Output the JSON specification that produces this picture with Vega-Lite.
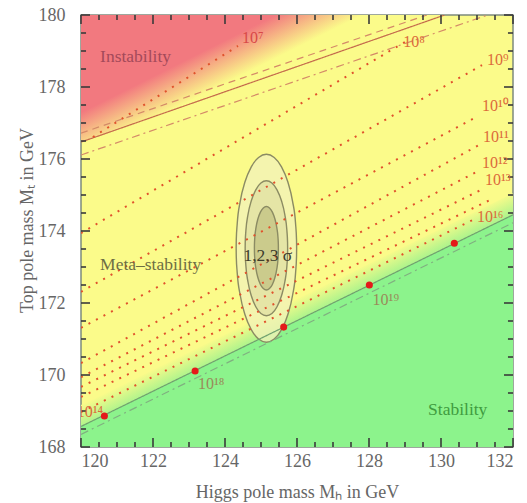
{
  "$schema": "https://vega.github.io/schema/vega-lite/v6.json",
  "width": 432,
  "height": 432,
  "autosize": "none",
  "padding": {"left": 81, "top": 15, "right": 14, "bottom": 56},
  "background": "white",
  "config": {
    "view": {"fill": "#fbfb8a", "stroke": "#7d8a7d", "strokeWidth": 1.5},
    "font": "Liberation Serif",
    "axis": {
      "domain": false, "grid": false, "ticks": false,
      "labelFont": "Liberation Serif", "labelFontSize": 18, "labelColor": "#666666",
      "titleFont": "Liberation Serif", "titleFontSize": 18, "titleColor": "#666666", "titleFontWeight": "normal"
    }
  },
  "datasets": {
    "red": [{"x": 120, "y": 176.47}, {"x": 130.1, "y": 180}],
    "green": [{"x": 120, "y": 168.57}, {"x": 132, "y": 174.45}],
    "band": [{"x": 120, "lo": 168.57, "hi": 169.17}, {"x": 132, "lo": 174.45, "hi": 175.05}],
    "xmaj": [{"v": 120}, {"v": 122}, {"v": 124}, {"v": 126}, {"v": 128}, {"v": 130}, {"v": 132}],
    "xmin": [{"v": 120.5}, {"v": 121}, {"v": 121.5}, {"v": 122.5}, {"v": 123}, {"v": 123.5}, {"v": 124.5}, {"v": 125}, {"v": 125.5}, {"v": 126.5}, {"v": 127}, {"v": 127.5}, {"v": 128.5}, {"v": 129}, {"v": 129.5}, {"v": 130.5}, {"v": 131}, {"v": 131.5}],
    "ymaj": [{"v": 168}, {"v": 170}, {"v": 172}, {"v": 174}, {"v": 176}, {"v": 178}, {"v": 180}],
    "ymin": [{"v": 168.5}, {"v": 169}, {"v": 169.5}, {"v": 170.5}, {"v": 171}, {"v": 171.5}, {"v": 172.5}, {"v": 173}, {"v": 173.5}, {"v": 174.5}, {"v": 175}, {"v": 175.5}, {"v": 176.5}, {"v": 177}, {"v": 177.5}, {"v": 178.5}, {"v": 179}, {"v": 179.5}],
    "e3": [
      {"x": 124.31, "lo": 173.52, "hi": 173.52}, {"x": 124.313, "lo": 173.292, "hi": 173.748},
      {"x": 124.339, "lo": 172.845, "hi": 174.196}, {"x": 124.423, "lo": 172.215, "hi": 174.825},
      {"x": 124.556, "lo": 171.675, "hi": 175.366}, {"x": 124.73, "lo": 171.26, "hi": 175.78},
      {"x": 124.933, "lo": 170.999, "hi": 176.041}, {"x": 125.15, "lo": 170.91, "hi": 176.13},
      {"x": 125.367, "lo": 170.999, "hi": 176.041}, {"x": 125.57, "lo": 171.26, "hi": 175.78},
      {"x": 125.744, "lo": 171.675, "hi": 175.366}, {"x": 125.877, "lo": 172.215, "hi": 174.825},
      {"x": 125.961, "lo": 172.845, "hi": 174.196}, {"x": 125.987, "lo": 173.292, "hi": 173.748},
      {"x": 125.99, "lo": 173.52, "hi": 173.52}
    ],
    "e2": [
      {"x": 124.56, "lo": 173.52, "hi": 173.52}, {"x": 124.562, "lo": 173.357, "hi": 173.684},
      {"x": 124.58, "lo": 173.035, "hi": 174.005}, {"x": 124.639, "lo": 172.583, "hi": 174.458},
      {"x": 124.733, "lo": 172.194, "hi": 174.846}, {"x": 124.855, "lo": 171.896, "hi": 175.144},
      {"x": 124.997, "lo": 171.709, "hi": 175.331}, {"x": 125.15, "lo": 171.645, "hi": 175.395},
      {"x": 125.303, "lo": 171.709, "hi": 175.331}, {"x": 125.445, "lo": 171.896, "hi": 175.144},
      {"x": 125.567, "lo": 172.194, "hi": 174.846}, {"x": 125.661, "lo": 172.583, "hi": 174.458},
      {"x": 125.72, "lo": 173.035, "hi": 174.005}, {"x": 125.738, "lo": 173.357, "hi": 173.684},
      {"x": 125.74, "lo": 173.52, "hi": 173.52}
    ],
    "e1": [
      {"x": 124.817, "lo": 173.52, "hi": 173.52}, {"x": 124.818, "lo": 173.419, "hi": 173.621},
      {"x": 124.828, "lo": 173.22, "hi": 173.82}, {"x": 124.862, "lo": 172.94, "hi": 174.1},
      {"x": 124.915, "lo": 172.7, "hi": 174.34}, {"x": 124.984, "lo": 172.515, "hi": 174.525},
      {"x": 125.064, "lo": 172.4, "hi": 174.64}, {"x": 125.15, "lo": 172.36, "hi": 174.68},
      {"x": 125.236, "lo": 172.4, "hi": 174.64}, {"x": 125.316, "lo": 172.515, "hi": 174.525},
      {"x": 125.385, "lo": 172.7, "hi": 174.34}, {"x": 125.438, "lo": 172.94, "hi": 174.1},
      {"x": 125.472, "lo": 173.22, "hi": 173.82}, {"x": 125.482, "lo": 173.419, "hi": 173.621},
      {"x": 125.483, "lo": 173.52, "hi": 173.52}
    ],
    "bounds": [
      {"id": "inst_dash", "x": 120, "y": 176.72}, {"id": "inst_dash", "x": 129.61, "y": 180},
      {"id": "inst_solid", "x": 120, "y": 176.47}, {"id": "inst_solid", "x": 130.1, "y": 180},
      {"id": "inst_dd", "x": 120, "y": 176.11}, {"id": "inst_dd", "x": 131.3, "y": 180},
      {"id": "stab_solid", "x": 120, "y": 168.57}, {"id": "stab_solid", "x": 132, "y": 174.45},
      {"id": "stab_dd", "x": 120, "y": 168.35}, {"id": "stab_dd", "x": 132, "y": 174.23}
    ],
    "dotted": [
      {"L": "7", "x": 120.33, "y": 176.61}, {"L": "7", "x": 124.36, "y": 179.14},
      {"L": "8", "x": 120, "y": 173.94}, {"L": "8", "x": 129.0, "y": 179.25},
      {"L": "9", "x": 120, "y": 172.31}, {"L": "9", "x": 131.14, "y": 178.61},
      {"L": "10", "x": 120, "y": 171.31}, {"L": "10", "x": 131.03, "y": 177.19},
      {"L": "11", "x": 120, "y": 170.33}, {"L": "11", "x": 131.06, "y": 176.39},
      {"L": "12", "x": 120, "y": 169.94}, {"L": "12", "x": 131.08, "y": 175.69},
      {"L": "13", "x": 120, "y": 169.67}, {"L": "13", "x": 131.17, "y": 175.17},
      {"L": "14", "x": 120, "y": 169.39}, {"L": "14", "x": 131.36, "y": 174.86},
      {"L": "16", "x": 120, "y": 168.97}, {"L": "16", "x": 130.89, "y": 174.31}
    ],
    "dots": [
      {"x": 120.65, "y": 168.86}, {"x": 123.17, "y": 170.11}, {"x": 125.63, "y": 171.33},
      {"x": 128.01, "y": 172.5}, {"x": 130.37, "y": 173.66}
    ],
    "labOrange": [
      {"t": "10⁸", "x": 128.95, "y": 179.25}, {"t": "10⁹", "x": 131.28, "y": 178.75},
      {"t": "10¹⁰", "x": 131.14, "y": 177.47}, {"t": "10¹¹", "x": 131.17, "y": 176.61},
      {"t": "10¹²", "x": 131.14, "y": 175.89}, {"t": "10¹³", "x": 131.22, "y": 175.42},
      {"t": "10¹⁶", "x": 131.0, "y": 174.39}, {"t": "10¹⁴", "x": 119.88, "y": 168.98}
    ],
    "labRed": [{"t": "10⁷", "x": 124.47, "y": 179.36}],
    "labOlive": [{"t": "10¹⁸", "x": 123.25, "y": 169.75}, {"t": "10¹⁹", "x": 128.1, "y": 172.08}],
    "regInst": [{"t": "Instability", "x": 120.53, "y": 178.83}],
    "regMeta": [{"t": "Meta–stability", "x": 120.53, "y": 173.06}],
    "regStab": [{"t": "Stability", "x": 129.64, "y": 169.03}],
    "sigma": [{"t": "1,2,3 σ", "x": 125.19, "y": 173.31}]
  },
  "resolve": {"scale": {"color": "independent", "strokeDash": "independent"}},
  "layer": [
    {
      "data": {"name": "red"},
      "mark": {"type": "area", "clip": true, "color": {"gradient": "linear", "x1": 0, "y1": 0, "x2": 1, "y2": 0.6985,
        "stops": [{"offset": 0, "color": "#f2797f"}, {"offset": 0.36, "color": "#f2797f"}, {"offset": 0.52, "color": "#fbfb8a"}, {"offset": 1, "color": "#fbfb8a"}]}},
      "encoding": {
        "x": {"field": "x", "type": "quantitative", "scale": {"domain": [120, 132], "nice": false, "zero": false},
          "axis": {"orient": "bottom", "values": [120, 122, 124, 126, 128, 130, 132], "labelPadding": 5,
            "title": "Higgs pole mass Mₕ in GeV", "titleY": 50, "titleBaseline": "alphabetic"}},
        "y": {"field": "y", "type": "quantitative", "scale": {"domain": [168, 180], "nice": false, "zero": false},
          "axis": {"orient": "left", "values": [168, 170, 172, 174, 176, 178, 180], "labelPadding": 16,
            "title": "Top pole mass Mₜ in GeV", "titleX": -49, "titleY": 205, "titleBaseline": "alphabetic"}},
        "y2": {"datum": 180}
      }
    },
    {
      "data": {"name": "green"},
      "mark": {"type": "area", "clip": true, "color": "#8cf38c"},
      "encoding": {
        "x": {"field": "x", "type": "quantitative"},
        "y": {"field": "y", "type": "quantitative"},
        "y2": {"datum": 168}
      }
    },
    {
      "data": {"name": "band"},
      "mark": {"type": "area", "clip": true, "color": {"gradient": "linear", "x1": 0, "y1": 0.9069, "x2": 0.0465, "y2": 0.9577,
        "stops": [{"offset": 0, "color": "#fbfb8a"}, {"offset": 1, "color": "#b0f48c"}]}},
      "encoding": {
        "x": {"field": "x", "type": "quantitative"},
        "y": {"field": "lo", "type": "quantitative"},
        "y2": {"field": "hi"}
      }
    },
    {
      "data": {"name": "e3"},
      "mark": {"type": "area", "interpolate": "monotone", "fill": "#f3f3b6", "fillOpacity": 0.8, "stroke": "#8b8b63", "strokeWidth": 1.4},
      "encoding": {
        "x": {"field": "x", "type": "quantitative"},
        "y": {"field": "lo", "type": "quantitative"},
        "y2": {"field": "hi"}
      }
    },
    {
      "data": {"name": "e2"},
      "mark": {"type": "area", "interpolate": "monotone", "fill": "#e2e2a4", "fillOpacity": 0.85, "stroke": "#8b8b63", "strokeWidth": 1.4},
      "encoding": {
        "x": {"field": "x", "type": "quantitative"},
        "y": {"field": "lo", "type": "quantitative"},
        "y2": {"field": "hi"}
      }
    },
    {
      "data": {"name": "e1"},
      "mark": {"type": "area", "interpolate": "monotone", "fill": "#c8c88a", "fillOpacity": 0.9, "stroke": "#8b8b63", "strokeWidth": 1.4},
      "encoding": {
        "x": {"field": "x", "type": "quantitative"},
        "y": {"field": "lo", "type": "quantitative"},
        "y2": {"field": "hi"}
      }
    },
    {
      "data": {"name": "bounds"},
      "mark": {"type": "line", "clip": true, "strokeWidth": 1.2},
      "encoding": {
        "x": {"field": "x", "type": "quantitative"},
        "y": {"field": "y", "type": "quantitative"},
        "detail": {"field": "id"},
        "color": {"field": "id", "type": "nominal", "legend": null,
          "scale": {"domain": ["inst_dash", "inst_solid", "inst_dd", "stab_solid", "stab_dd"], "range": ["#d48a68", "#c46a4c", "#d48a68", "#6fa06f", "#80b080"]}},
        "strokeDash": {"field": "id", "type": "nominal", "legend": null,
          "scale": {"domain": ["inst_dash", "inst_solid", "inst_dd", "stab_solid", "stab_dd"], "range": [[7, 5], [1, 0], [8, 4, 2, 4], [1, 0], [8, 4, 2, 4]]}}
      }
    },
    {
      "data": {"name": "dotted"},
      "mark": {"type": "line", "clip": true, "color": "#e0522c", "strokeWidth": 2, "strokeDash": [2, 6.5]},
      "encoding": {
        "x": {"field": "x", "type": "quantitative"},
        "y": {"field": "y", "type": "quantitative"},
        "detail": {"field": "L"}
      }
    },
    {
      "data": {"name": "dots"},
      "mark": {"type": "circle", "color": "#e41a1a", "size": 50, "opacity": 1},
      "encoding": {
        "x": {"field": "x", "type": "quantitative"},
        "y": {"field": "y", "type": "quantitative"}
      }
    },
    {"data": {"name": "xmaj"}, "mark": {"type": "rule", "color": "#3a3a3a", "strokeWidth": 1.6},
      "encoding": {"x": {"field": "v", "type": "quantitative"}, "y": {"datum": 168, "type": "quantitative"}, "y2": {"datum": 168.25}}},
    {"data": {"name": "xmaj"}, "mark": {"type": "rule", "color": "#3a3a3a", "strokeWidth": 1.6},
      "encoding": {"x": {"field": "v", "type": "quantitative"}, "y": {"datum": 180, "type": "quantitative"}, "y2": {"datum": 179.75}}},
    {"data": {"name": "xmin"}, "mark": {"type": "rule", "color": "#3a3a3a", "strokeWidth": 1.6},
      "encoding": {"x": {"field": "v", "type": "quantitative"}, "y": {"datum": 168, "type": "quantitative"}, "y2": {"datum": 168.14}}},
    {"data": {"name": "xmin"}, "mark": {"type": "rule", "color": "#3a3a3a", "strokeWidth": 1.6},
      "encoding": {"x": {"field": "v", "type": "quantitative"}, "y": {"datum": 180, "type": "quantitative"}, "y2": {"datum": 179.86}}},
    {"data": {"name": "ymaj"}, "mark": {"type": "rule", "color": "#3a3a3a", "strokeWidth": 1.6},
      "encoding": {"y": {"field": "v", "type": "quantitative"}, "x": {"datum": 120, "type": "quantitative"}, "x2": {"datum": 120.25}}},
    {"data": {"name": "ymaj"}, "mark": {"type": "rule", "color": "#3a3a3a", "strokeWidth": 1.6},
      "encoding": {"y": {"field": "v", "type": "quantitative"}, "x": {"datum": 132, "type": "quantitative"}, "x2": {"datum": 131.75}}},
    {"data": {"name": "ymin"}, "mark": {"type": "rule", "color": "#3a3a3a", "strokeWidth": 1.6},
      "encoding": {"y": {"field": "v", "type": "quantitative"}, "x": {"datum": 120, "type": "quantitative"}, "x2": {"datum": 120.14}}},
    {"data": {"name": "ymin"}, "mark": {"type": "rule", "color": "#3a3a3a", "strokeWidth": 1.6},
      "encoding": {"y": {"field": "v", "type": "quantitative"}, "x": {"datum": 132, "type": "quantitative"}, "x2": {"datum": 131.86}}},
    {
      "data": {"name": "labOrange"},
      "mark": {"type": "text", "clip": true, "align": "left", "baseline": "middle", "fontSize": 16, "color": "#dc6a3a", "font": "Liberation Serif"},
      "encoding": {
        "x": {"field": "x", "type": "quantitative"},
        "y": {"field": "y", "type": "quantitative"},
        "text": {"field": "t"}
      }
    },
    {
      "data": {"name": "labRed"},
      "mark": {"type": "text", "align": "left", "baseline": "middle", "fontSize": 16, "color": "#d84848", "font": "Liberation Serif"},
      "encoding": {
        "x": {"field": "x", "type": "quantitative"},
        "y": {"field": "y", "type": "quantitative"},
        "text": {"field": "t"}
      }
    },
    {
      "data": {"name": "labOlive"},
      "mark": {"type": "text", "align": "left", "baseline": "middle", "fontSize": 16, "color": "#9a8a5a", "font": "Liberation Serif"},
      "encoding": {
        "x": {"field": "x", "type": "quantitative"},
        "y": {"field": "y", "type": "quantitative"},
        "text": {"field": "t"}
      }
    },
    {
      "data": {"name": "regInst"},
      "mark": {"type": "text", "align": "left", "baseline": "middle", "fontSize": 17.5, "color": "#a44a5a", "font": "Liberation Serif"},
      "encoding": {
        "x": {"field": "x", "type": "quantitative"},
        "y": {"field": "y", "type": "quantitative"},
        "text": {"field": "t"}
      }
    },
    {
      "data": {"name": "regMeta"},
      "mark": {"type": "text", "align": "left", "baseline": "middle", "fontSize": 17.5, "color": "#6e6e44", "font": "Liberation Serif"},
      "encoding": {
        "x": {"field": "x", "type": "quantitative"},
        "y": {"field": "y", "type": "quantitative"},
        "text": {"field": "t"}
      }
    },
    {
      "data": {"name": "regStab"},
      "mark": {"type": "text", "align": "left", "baseline": "middle", "fontSize": 17.5, "color": "#3f9c3f", "font": "Liberation Serif"},
      "encoding": {
        "x": {"field": "x", "type": "quantitative"},
        "y": {"field": "y", "type": "quantitative"},
        "text": {"field": "t"}
      }
    },
    {
      "data": {"name": "sigma"},
      "mark": {"type": "text", "align": "center", "baseline": "middle", "fontSize": 17.5, "color": "#3c3c2c", "font": "Liberation Serif"},
      "encoding": {
        "x": {"field": "x", "type": "quantitative"},
        "y": {"field": "y", "type": "quantitative"},
        "text": {"field": "t"}
      }
    }
  ]
}
